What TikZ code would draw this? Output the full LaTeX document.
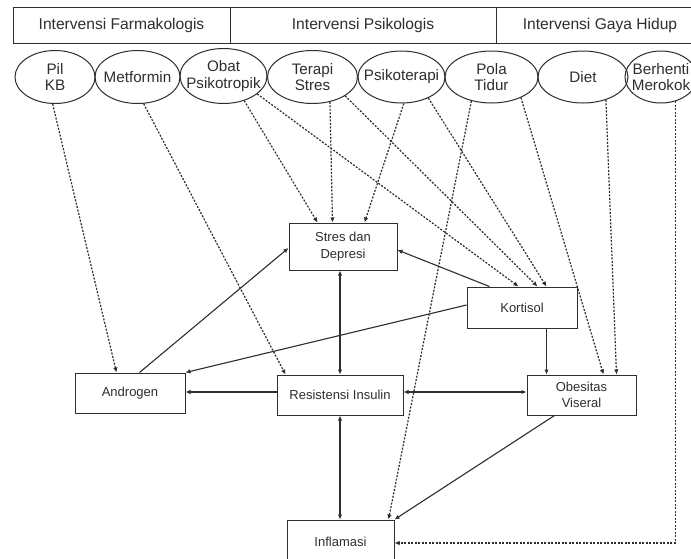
\documentclass[tikz,border=0pt]{standalone}
\usepackage{fontspec}
\setmainfont{Liberation Sans}
\usetikzlibrary{shapes.geometric,arrows.meta}
\begin{document}
\begin{tikzpicture}[x=1pt,y=-1pt,color=black!82,
  hdr/.style={draw, rectangle, inner sep=0pt, minimum height=35.5pt, line width=1pt, font=\fontsize{15.6}{18}\selectfont},
  ell/.style={draw, ellipse, inner sep=0pt, line width=1pt},
  lab/.style={align=center, inner sep=0pt, font=\fontsize{15.2}{16.5}\selectfont},
  bx/.style={draw, rectangle, inner sep=0pt, align=center, line width=1pt, font=\fontsize{13}{16.5}\selectfont},
  dep/.style={dash pattern=on 2pt off 1.5pt, line width=1.2pt, -{Latex[length=5pt,width=4.5pt]}},
  sol/.style={line width=1.1pt, -{Latex[length=5pt,width=4.5pt]}},
  bi/.style={line width=1.1pt, {Latex[length=5pt,width=4.5pt]}-{Latex[length=5pt,width=4.5pt]}}
]
\useasboundingbox (0,0) rectangle (691,558);
\fill[white] (0,0) rectangle (691,558);

% header
\node[hdr, minimum width=217pt] (h1) at (121.5,25.25) {Intervensi Farmakologis};
\node[hdr, minimum width=266pt] (h2) at (363,25.25) {Intervensi Psikologis};
\node[hdr, minimum width=208pt] (h3) at (600,25.25) {Intervensi Gaya Hidup};

% interventions
\node[ell, minimum width=80pt, minimum height=53pt, label={[lab]center:Pil\\KB}] (pil) at (55,77) {};
\node[ell, minimum width=85pt, minimum height=53pt, label={[lab]center:Metformin}] (metf) at (137.5,77) {};
\node[ell, minimum width=87pt, minimum height=55pt, label={[lab]center:Obat\\Psikotropik}] (obat) at (223.5,76) {};
\node[ell, minimum width=90pt, minimum height=53pt, label={[lab]center:Terapi\\Stres}] (terapi) at (312.5,77) {};
\node[ell, minimum width=87pt, minimum height=52pt, label={[lab]center:Psikoterapi}] (psiko) at (401.5,77) {};
\node[ell, minimum width=93pt, minimum height=52pt, label={[lab]center:Pola\\Tidur}] (pola) at (491.5,77) {};
\node[ell, minimum width=90pt, minimum height=52pt, label={[lab]center:Diet}] (diet) at (583,77) {};
\node[ell, minimum width=72pt, minimum height=52pt, label={[lab]center:Berhenti\\Merokok}] (berh) at (661,77) {};

% factors
\node[bx, minimum width=108pt, minimum height=47pt] (stres) at (343,246.5) {Stres dan\\Depresi};
\node[bx, minimum width=110pt, minimum height=41pt] (kort) at (522,307.5) {Kortisol};
\node[bx, minimum width=110pt, minimum height=40pt] (andr) at (130,393) {Androgen};
\node[bx, minimum width=126pt, minimum height=40pt] (resist) at (340,395) {Resistensi Insulin};
\node[bx, minimum width=109pt, minimum height=40pt] (obes) at (581.5,395) {Obesitas\\Viseral};
\node[bx, minimum width=107pt, minimum height=43pt] (infl) at (340.5,541.5) {Inflamasi};

% dashed influences
\draw[dep] (pil.-95) -- ([xshift=42pt]andr.north west);
\draw[dep] (metf.-77) -- ([xshift=9pt]resist.north west);
\draw[dep] (obat.-50) -- ([xshift=29pt]stres.north west);
\draw[dep] (obat.-28) -- ([xshift=52pt]kort.north west);
\draw[dep] (terapi.-55) -- ([xshift=44pt]stres.north west);
\draw[dep] (terapi.-30) -- ([xshift=71pt]kort.north west);
\draw[dep] (psiko.-85) -- ([xshift=76pt]stres.north west);
\draw[dep] (psiko.-38) -- ([xshift=80pt]kort.north west);
\draw[dep] (pola.-130) -- ([xshift=-6pt]infl.north east);
\draw[dep] (pola.-35) -- ([xshift=77pt]obes.north west);
\draw[dep] (diet.-45) -- ([xshift=90pt]obes.north west);
\draw[dep] (berh.-60) |- ([yshift=-1.5pt]infl.east);

% solid relations
\draw[sol] ([xshift=65pt]andr.north west) -- ([yshift=-1.5pt]stres.west);
\draw[sol] ([xshift=23pt]kort.north west) -- ([yshift=-3.5pt]stres.east);
\draw[sol] ([yshift=2.5pt]kort.west) -- (andr.north east);
\draw[sol] ([xshift=80pt]kort.south west) -- ([xshift=80pt]kort.south west |- obes.north);
\draw[bi] (resist.north |- stres.south) -- (resist.north);
\draw[sol] ([yshift=3pt]resist.west) -- ([yshift=3pt]resist.west -| andr.east);
\draw[bi] ([yshift=3pt]resist.east) -- ([yshift=3pt]resist.east -| obes.west);
\draw[bi] (resist.south) -- (resist.south |- infl.north);
\draw[sol] ([xshift=28pt]obes.south west) -- (infl.north east);
\end{tikzpicture}
\end{document}
